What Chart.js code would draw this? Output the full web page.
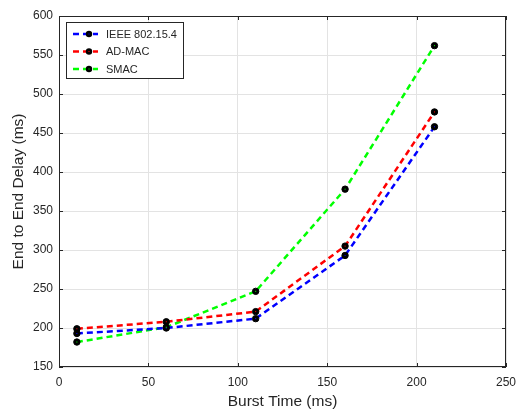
<!DOCTYPE html>
<html>
<head>
<meta charset="utf-8">
<script src="https://cdn.jsdelivr.net/npm/chart.js@4"></script>
<style>
  html, body { margin: 0; padding: 0; background: #fff; }
  #wrap { width: 516px; height: 411px; }
</style>
</head>
<body>
<div id="wrap"><canvas id="chart" width="516" height="411"></canvas></div>
<script>
/* ---------- data ---------- */
const burstTime = [10, 60, 110, 160, 210];
const ieee = [193, 200, 212, 293, 458];
const admac = [199, 208, 221, 305, 477];
const smac = [182, 201, 247, 378, 562];
const seriesNames = ['IEEE 802.15.4', 'AD-MAC', 'SMAC'];
const seriesColors = ['#0000ff', '#ff0000', '#00ff00'];
const xTicks = [0, 50, 100, 150, 200, 250];
const yTicks = [150, 200, 250, 300, 350, 400, 450, 500, 550, 600];

const FONT = 'Helvetica, "Liberation Sans", Arial, sans-serif';
const TXT = '#262626';

function makeSet(label, values, color) {
  return {
    label,
    data: burstTime.map((x, i) => ({ x, y: values[i] })),
    borderColor: color,
    borderWidth: 2.5,
    borderDash: [6, 4],
    backgroundColor: color,
    pointRadius: 3.2,
    pointHoverRadius: 3.2,
    pointBackgroundColor: '#000',
    pointBorderColor: '#000',
    pointBorderWidth: 1,
    tension: 0,
    fill: false
  };
}

/* ---------- box, inward ticks, legend ---------- */
const matlabLook = {
  id: 'matlabLook',
  afterDatasetsDraw(chart) {
    const { ctx, chartArea: a, scales } = chart;
    ctx.save();
    // colored center dot inside black markers
    chart.data.datasets.forEach((ds, i) => {
      chart.getDatasetMeta(i).data.forEach(pt => {
        ctx.fillStyle = seriesColors[i];
        ctx.fillRect(pt.x - 0.5, pt.y - 0.5, 1, 1);
      });
    });
    // axis box
    ctx.strokeStyle = '#262626';
    ctx.lineWidth = 1;
    ctx.setLineDash([]);
    ctx.strokeRect(a.left + 0.5, a.top + 0.5, a.right - a.left - 1, a.bottom - a.top - 1);
    // inward ticks
    xTicks.forEach(v => {
      const px = Math.round(scales.x.getPixelForValue(v)) + 0.5;
      ctx.beginPath();
      ctx.moveTo(px, a.bottom); ctx.lineTo(px, a.bottom - 4);
      ctx.moveTo(px, a.top); ctx.lineTo(px, a.top + 4);
      ctx.stroke();
    });
    yTicks.forEach(v => {
      const py = Math.round(scales.y.getPixelForValue(v)) + 0.5;
      ctx.beginPath();
      ctx.moveTo(a.left, py); ctx.lineTo(a.left + 4, py);
      ctx.moveTo(a.right, py); ctx.lineTo(a.right - 4, py);
      ctx.stroke();
    });
    // legend
    const bx = 66, by = 22, bw = 117, bh = 56;
    ctx.fillStyle = '#fff';
    ctx.fillRect(bx, by, bw, bh);
    ctx.strokeStyle = '#262626';
    ctx.strokeRect(bx + 0.5, by + 0.5, bw, bh);
    ctx.font = '11px ' + FONT;
    ctx.textBaseline = 'middle';
    seriesNames.forEach((name, i) => {
      const y = by + 12 + i * 17.5;
      ctx.strokeStyle = seriesColors[i];
      ctx.lineWidth = 2.5;
      ctx.setLineDash([6, 4]);
      ctx.beginPath();
      ctx.moveTo(73, y); ctx.lineTo(98, y);
      ctx.stroke();
      ctx.setLineDash([]);
      ctx.fillStyle = '#000';
      ctx.beginPath();
      ctx.arc(89, y, 3.2, 0, Math.PI * 2);
      ctx.fill();
      ctx.fillStyle = seriesColors[i];
      ctx.fillRect(88.5, y - 0.5, 1, 1);
      ctx.fillStyle = TXT;
      ctx.fillText(name, 106, y + 0.5);
    });
    ctx.restore();
  }
};

new Chart(document.getElementById('chart'), {
  type: 'line',
  data: {
    datasets: [
      makeSet(seriesNames[0], ieee, seriesColors[0]),
      makeSet(seriesNames[1], admac, seriesColors[1]),
      makeSet(seriesNames[2], smac, seriesColors[2])
    ]
  },
  options: {
    responsive: false,
    animation: false,
    layout: { padding: { top: 16, right: 10, left: 0, bottom: 0 } },
    plugins: { legend: { display: false }, tooltip: { enabled: false } },
    scales: {
      x: {
        type: 'linear',
        min: 0, max: 250,
        afterBuildTicks: s => { s.ticks = xTicks.map(v => ({ value: v })); },
        afterFit: s => { s.height = 44; s.paddingLeft = 0; s.paddingRight = 0; },
        ticks: { color: TXT, font: { size: 12, family: FONT }, padding: 8, maxRotation: 0 },
        grid: { color: '#e3e3e3', drawTicks: false },
        border: { display: false },
        title: { display: true, text: 'Burst Time (ms)', color: TXT, font: { size: 15.5, family: FONT }, padding: { top: 0, bottom: 0 } }
      },
      y: {
        min: 150, max: 600,
        afterBuildTicks: s => { s.ticks = yTicks.map(v => ({ value: v })); },
        afterFit: s => { s.width = 59; s.paddingTop = 0; s.paddingBottom = 0; },
        ticks: { color: TXT, font: { size: 12, family: FONT }, padding: 6 },
        grid: { color: '#e3e3e3', drawTicks: false },
        border: { display: false },
        title: { display: true, text: 'End to End Delay (ms)', color: TXT, font: { size: 15.5, family: FONT }, padding: { top: 9, bottom: 0 } }
      }
    }
  },
  plugins: [matlabLook]
});
</script>
</body>
</html>
